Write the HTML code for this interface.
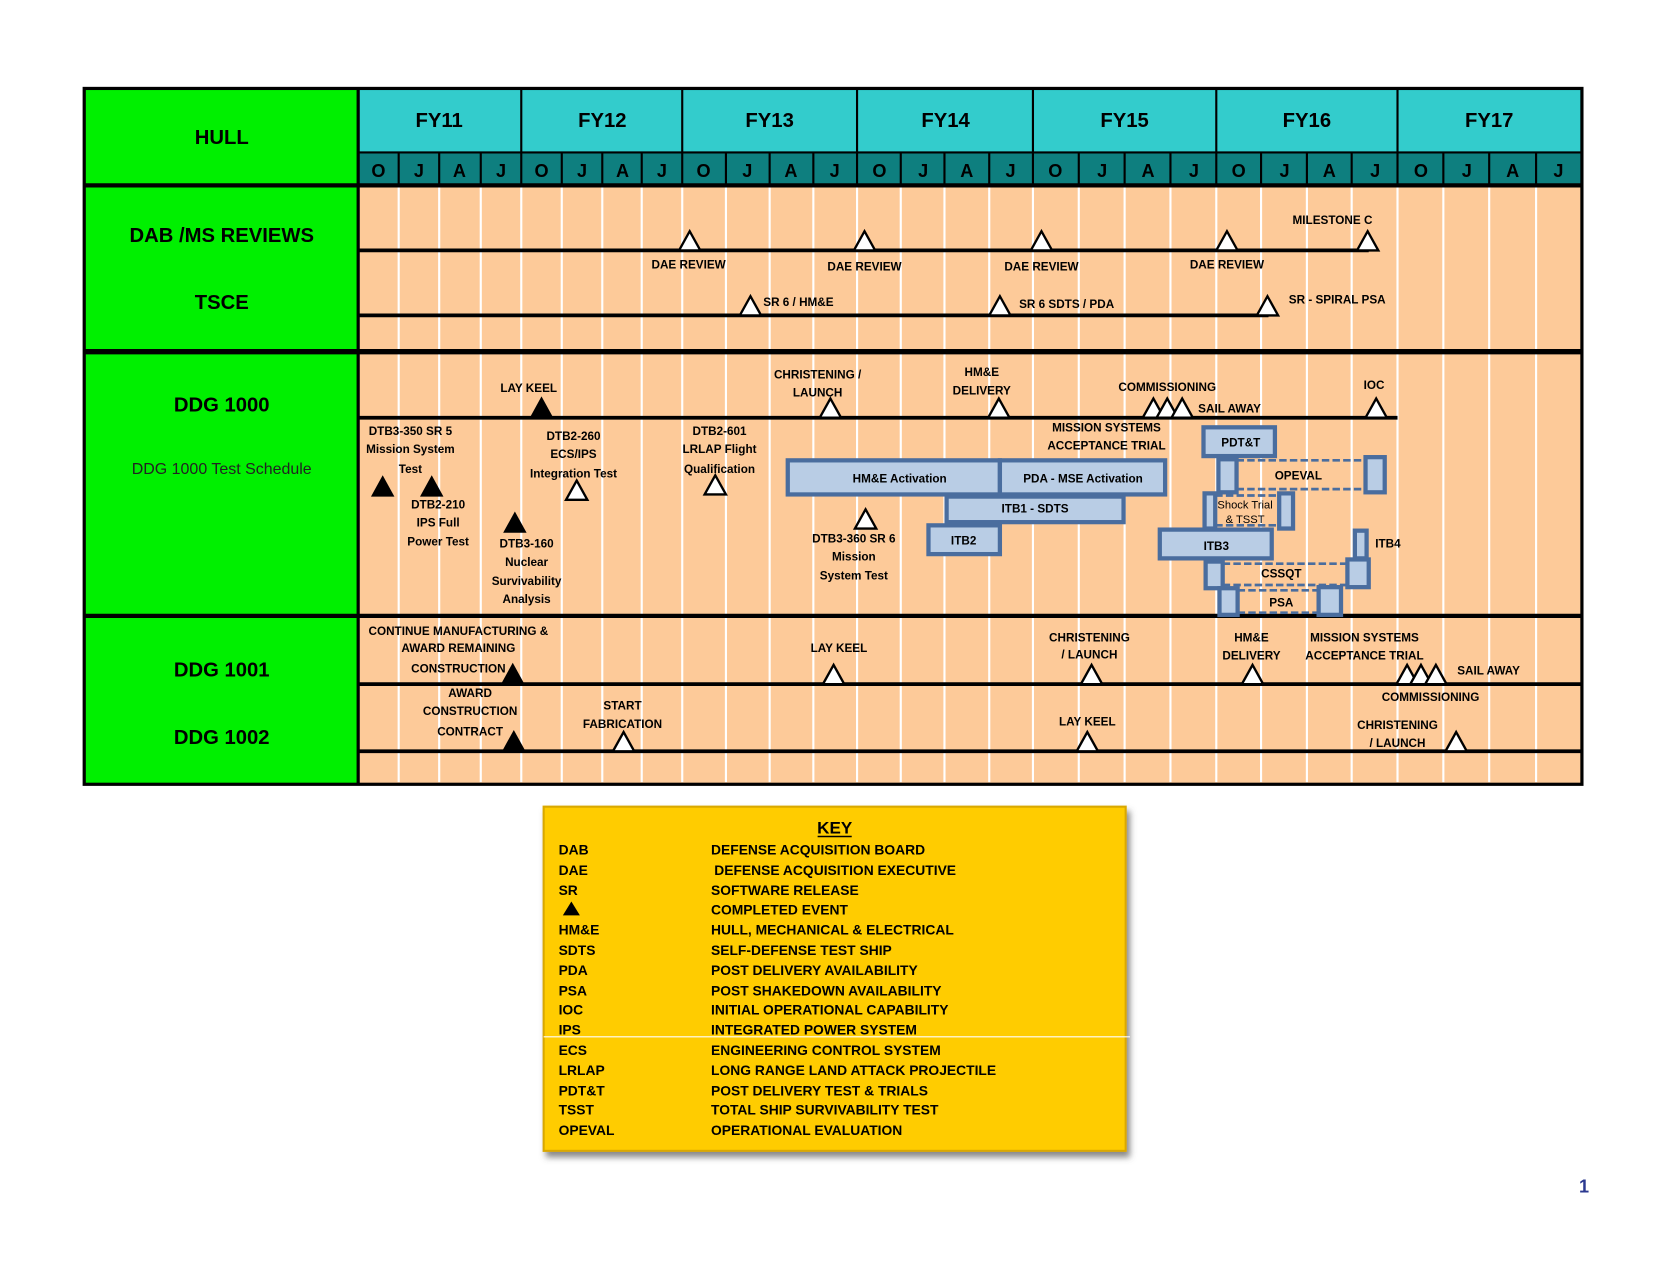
<!DOCTYPE html>
<html><head><meta charset="utf-8"><style>
html,body{margin:0;padding:0;background:#fff;}
svg{display:block;}
text{font-family:"Liberation Sans Narrow","Liberation Sans",sans-serif;font-weight:bold;fill:#000;}
.s{font-size:11px;}
.m{font-size:13px;}
.big{font-size:19px;}
.mo{font-size:17px;fill:#fff;}
.k{font-size:13px;}
</style></head><body>
<svg width="1672" height="1275" viewBox="0 0 1568.5 1196.5" preserveAspectRatio="none" xmlns="http://www.w3.org/2000/svg">
<defs>
<filter id="sh" x="-5%" y="-5%" width="115%" height="120%"><feDropShadow dx="3" dy="5" stdDeviation="3" flood-color="#555" flood-opacity="0.7"/></filter>
</defs>
<rect x="336" y="174" width="1148" height="562" fill="#FDCA99"/>
<rect x="79" y="83" width="257" height="653" fill="#00F000"/>
<rect x="336" y="83" width="1148" height="60" fill="#33CCCC"/>
<rect x="336" y="143" width="1148" height="31" fill="#0E7F7F"/>
<g stroke="#fff" stroke-width="2">
<line x1="374" y1="176" x2="374" y2="734"/><line x1="412" y1="176" x2="412" y2="734"/><line x1="451" y1="176" x2="451" y2="734"/><line x1="489" y1="176" x2="489" y2="734"/>
<line x1="527" y1="176" x2="527" y2="734"/><line x1="565" y1="176" x2="565" y2="734"/><line x1="602" y1="176" x2="602" y2="734"/><line x1="640" y1="176" x2="640" y2="734"/>
<line x1="681" y1="176" x2="681" y2="734"/><line x1="722" y1="176" x2="722" y2="734"/><line x1="763" y1="176" x2="763" y2="734"/><line x1="804" y1="176" x2="804" y2="734"/>
<line x1="845" y1="176" x2="845" y2="734"/><line x1="886" y1="176" x2="886" y2="734"/><line x1="928" y1="176" x2="928" y2="734"/><line x1="969" y1="176" x2="969" y2="734"/>
<line x1="1012" y1="176" x2="1012" y2="734"/><line x1="1055" y1="176" x2="1055" y2="734"/><line x1="1098" y1="176" x2="1098" y2="734"/><line x1="1141" y1="176" x2="1141" y2="734"/>
<line x1="1183" y1="176" x2="1183" y2="734"/><line x1="1226" y1="176" x2="1226" y2="734"/><line x1="1268" y1="176" x2="1268" y2="734"/><line x1="1311" y1="176" x2="1311" y2="734"/>
<line x1="1354" y1="176" x2="1354" y2="734"/><line x1="1397" y1="176" x2="1397" y2="734"/><line x1="1441" y1="176" x2="1441" y2="734"/>
</g>
<g stroke="#000" stroke-width="2">
<line x1="374" y1="143" x2="374" y2="174"/><line x1="412" y1="143" x2="412" y2="174"/><line x1="451" y1="143" x2="451" y2="174"/>
<line x1="527" y1="143" x2="527" y2="174"/><line x1="565" y1="143" x2="565" y2="174"/><line x1="602" y1="143" x2="602" y2="174"/>
<line x1="681" y1="143" x2="681" y2="174"/><line x1="722" y1="143" x2="722" y2="174"/><line x1="763" y1="143" x2="763" y2="174"/>
<line x1="845" y1="143" x2="845" y2="174"/><line x1="886" y1="143" x2="886" y2="174"/><line x1="928" y1="143" x2="928" y2="174"/>
<line x1="1012" y1="143" x2="1012" y2="174"/><line x1="1055" y1="143" x2="1055" y2="174"/><line x1="1098" y1="143" x2="1098" y2="174"/>
<line x1="1183" y1="143" x2="1183" y2="174"/><line x1="1226" y1="143" x2="1226" y2="174"/><line x1="1268" y1="143" x2="1268" y2="174"/>
<line x1="1354" y1="143" x2="1354" y2="174"/><line x1="1397" y1="143" x2="1397" y2="174"/><line x1="1441" y1="143" x2="1441" y2="174"/>
<line x1="489" y1="83" x2="489" y2="174"/><line x1="640" y1="83" x2="640" y2="174"/><line x1="804" y1="83" x2="804" y2="174"/>
<line x1="969" y1="83" x2="969" y2="174"/><line x1="1141" y1="83" x2="1141" y2="174"/><line x1="1311" y1="83" x2="1311" y2="174"/>
<line x1="336" y1="143" x2="1484" y2="143"/>
</g>
<g stroke="#000">
<rect x="79" y="83" width="1405" height="653" fill="none" stroke-width="3"/>
<line x1="336" y1="83" x2="336" y2="736" stroke-width="3"/>
<line x1="79" y1="174" x2="1484" y2="174" stroke-width="4"/>
<line x1="79" y1="330" x2="1484" y2="330" stroke-width="5"/>
<line x1="79" y1="578" x2="1484" y2="578" stroke-width="4"/>
<line x1="336" y1="235" x2="1284" y2="235" stroke-width="3.5"/>
<line x1="336" y1="296" x2="1190" y2="296" stroke-width="3.5"/>
<line x1="336" y1="392" x2="1311" y2="392" stroke-width="3.5"/>
<line x1="336" y1="642" x2="1484" y2="642" stroke-width="3.5"/>
<line x1="336" y1="705" x2="1484" y2="705" stroke-width="3.5"/>
</g>
<g class="big" text-anchor="middle">
<text x="412" y="119">FY11</text><text x="565" y="119">FY12</text><text x="722" y="119">FY13</text>
<text x="887" y="119">FY14</text><text x="1055" y="119">FY15</text><text x="1226" y="119">FY16</text><text x="1397" y="119">FY17</text>
</g>
<g class="mo" text-anchor="middle">
<text x="355" y="166">O</text><text x="393" y="166">J</text><text x="431" y="166">A</text><text x="470" y="166">J</text>
<text x="508" y="166">O</text><text x="546" y="166">J</text><text x="584" y="166">A</text><text x="621" y="166">J</text>
<text x="660" y="166">O</text><text x="701" y="166">J</text><text x="742" y="166">A</text><text x="783" y="166">J</text>
<text x="825" y="166">O</text><text x="866" y="166">J</text><text x="907" y="166">A</text><text x="948" y="166">J</text>
<text x="990" y="166">O</text><text x="1034" y="166">J</text><text x="1077" y="166">A</text><text x="1120" y="166">J</text>
<text x="1162" y="166">O</text><text x="1205" y="166">J</text><text x="1247" y="166">A</text><text x="1290" y="166">J</text>
<text x="1333" y="166">O</text><text x="1376" y="166">J</text><text x="1419" y="166">A</text><text x="1462" y="166">J</text>
</g>
<g class="big" text-anchor="middle">
<text x="208" y="135">HULL</text>
<text x="208" y="227">DAB /MS REVIEWS</text>
<text x="208" y="290">TSCE</text>
<text x="208" y="386">DDG 1000</text>
<text x="208" y="635">DDG 1001</text>
<text x="208" y="698">DDG 1002</text>
</g>
<text x="208" y="445" text-anchor="middle" style="font-weight:normal;font-size:15px;fill:#222">DDG 1000 Test Schedule</text>

<g fill="#B9CDE5" stroke="#4A6D9E" stroke-width="4">
<rect x="739" y="432" width="199" height="32"/>
<rect x="938" y="432" width="155" height="32"/>
<rect x="888" y="466" width="166" height="24"/>
<rect x="871" y="493" width="67" height="27"/>
<rect x="1129" y="401" width="67" height="27"/>
<rect x="1143" y="431" width="17" height="31"/>
<rect x="1281" y="429" width="18" height="33"/>
<rect x="1130" y="463" width="10" height="33"/>
<rect x="1200" y="463" width="13" height="33"/>
<rect x="1088" y="497" width="105" height="27"/>
<rect x="1271" y="498" width="11" height="26"/>
<rect x="1131" y="527" width="16" height="25"/>
<rect x="1264" y="525" width="20" height="26"/>
<rect x="1144" y="552" width="17" height="25"/>
<rect x="1237" y="551" width="21" height="26"/>
</g>
<g stroke="#4A6D9E" stroke-width="2.5" stroke-dasharray="7,3" fill="none">
<line x1="1160" y1="432" x2="1281" y2="432"/><line x1="1160" y1="459" x2="1281" y2="459"/>
<line x1="1140" y1="465" x2="1200" y2="465"/><line x1="1140" y1="493" x2="1200" y2="493"/>
<line x1="1147" y1="529" x2="1264" y2="529"/><line x1="1147" y1="549" x2="1264" y2="549"/>
<line x1="1161" y1="554" x2="1237" y2="554"/><line x1="1161" y1="575" x2="1237" y2="575"/>
</g>
<g class="s" text-anchor="middle">
<text x="844" y="453">HM&amp;E Activation</text>
<text x="1016" y="453">PDA - MSE Activation</text>
<text x="971" y="481">ITB1 - SDTS</text>
<text x="904" y="511">ITB2</text>
<text x="1164" y="419">PDT&amp;T</text>
<text x="1218" y="450">OPEVAL</text>
<text x="1168" y="477" style="font-weight:normal;font-size:10.5px">Shock Trial</text>
<text x="1168" y="491" style="font-weight:normal;font-size:10.5px">&amp; TSST</text>
<text x="1141" y="516">ITB3</text>
<text x="1302" y="514">ITB4</text>
<text x="1202" y="542">CSSQT</text>
<text x="1202" y="569">PSA</text>
</g>

<g fill="#fff" stroke="#000" stroke-width="2.2">
<polygon points="637,235 647,217 657,235"/>
<polygon points="801,235 811,217 821,235"/>
<polygon points="967,235 977,217 987,235"/>
<polygon points="1141,235 1151,217 1161,235"/>
<polygon points="1273,235 1283,217 1293,235"/>
<polygon points="694,296 704,278 714,296"/>
<polygon points="928,296 938,278 948,296"/>
<polygon points="1179,296 1189,278 1199,296"/>
<polygon points="769,392 779,374 789,392"/>
<polygon points="927,392 937,374 947,392"/>
<polygon points="1072,392 1082,374 1092,392"/>
<polygon points="1085,392 1095,374 1105,392"/>
<polygon points="1099,392 1109,374 1119,392"/>
<polygon points="1281,392 1291,374 1301,392"/>
<polygon points="531,469 541,451 551,469"/>
<polygon points="661,464 671,446 681,464"/>
<polygon points="802,496 812,478 822,496"/>
<polygon points="772,642 782,624 792,642"/>
<polygon points="1014,642 1024,624 1034,642"/>
<polygon points="1165,642 1175,624 1185,642"/>
<polygon points="1310,642 1320,624 1330,642"/>
<polygon points="1323,642 1333,624 1343,642"/>
<polygon points="1337,642 1347,624 1357,642"/>
<polygon points="575,705 585,687 595,705"/>
<polygon points="1010,705 1020,687 1030,705"/>
<polygon points="1356,705 1366,687 1376,705"/>
</g>
<g fill="#000">
<polygon points="497,392 508,372 519,392"/>
<polygon points="348,466 359,446 370,466"/>
<polygon points="394,466 405,446 416,466"/>
<polygon points="472,500 483,480 494,500"/>
<polygon points="470,642 481,622 492,642"/>
<polygon points="471,705 482,685 493,705"/>
</g>

<g class="s" text-anchor="middle">
<text x="646" y="252">DAE REVIEW</text>
<text x="811" y="254">DAE REVIEW</text>
<text x="977" y="254">DAE REVIEW</text>
<text x="1151" y="252">DAE REVIEW</text>
<text x="1250" y="210">MILESTONE  C</text>
<text x="496" y="368">LAY KEEL</text>
<text x="767" y="355">CHRISTENING  /</text>
<text x="767" y="372">LAUNCH</text>
<text x="921" y="353">HM&amp;E</text>
<text x="921" y="370">DELIVERY</text>
<text x="1095" y="367">COMMISSIONING</text>
<text x="1289" y="365">IOC</text>
<text x="1038" y="405">MISSION  SYSTEMS</text>
<text x="1038" y="422">ACCEPTANCE  TRIAL</text>
<text x="385" y="408">DTB3-350 SR 5</text>
<text x="385" y="425">Mission System</text>
<text x="385" y="444">Test</text>
<text x="411" y="477">DTB2-210</text>
<text x="411" y="494">IPS Full</text>
<text x="411" y="512">Power Test</text>
<text x="538" y="413">DTB2-260</text>
<text x="538" y="430">ECS/IPS</text>
<text x="538" y="448">Integration  Test</text>
<text x="494" y="514">DTB3-160</text>
<text x="494" y="531">Nuclear</text>
<text x="494" y="549">Survivability</text>
<text x="494" y="566">Analysis</text>
<text x="675" y="408">DTB2-601</text>
<text x="675" y="425">LRLAP Flight</text>
<text x="675" y="444">Qualification</text>
<text x="801" y="509">DTB3-360 SR 6</text>
<text x="801" y="526">Mission</text>
<text x="801" y="544">System Test</text>
<text x="430" y="596">CONTINUE MANUFACTURING  &amp;</text>
<text x="430" y="612">AWARD REMAINING</text>
<text x="430" y="631">CONSTRUCTION</text>
<text x="787" y="612">LAY KEEL</text>
<text x="1022" y="602">CHRISTENING</text>
<text x="1022" y="618">/ LAUNCH</text>
<text x="1174" y="602">HM&amp;E</text>
<text x="1174" y="619">DELIVERY</text>
<text x="1280" y="602">MISSION  SYSTEMS</text>
<text x="1280" y="619">ACCEPTANCE  TRIAL</text>
<text x="1342" y="658">COMMISSIONING</text>
<text x="441" y="654">AWARD</text>
<text x="441" y="671">CONSTRUCTION</text>
<text x="441" y="690">CONTRACT</text>
<text x="584" y="666">START</text>
<text x="584" y="683">FABRICATION</text>
<text x="1020" y="681">LAY KEEL</text>
<text x="1311" y="684">CHRISTENING</text>
<text x="1311" y="701">/ LAUNCH</text>
</g>
<g class="s">
<text x="716" y="287">SR 6  /  HM&amp;E</text>
<text x="956" y="289">SR 6  SDTS  /  PDA</text>
<text x="1209" y="285">SR  -  SPIRAL  PSA</text>
<text x="1124" y="387">SAIL  AWAY</text>
<text x="1367" y="633">SAIL  AWAY</text>
</g>

<rect x="510" y="757" width="546" height="323" fill="#FFCC00" stroke="#D9A800" stroke-width="2" filter="url(#sh)"/>
<line x1="510" y1="973" x2="1060" y2="973" stroke="#fff" stroke-width="1"/>
<text x="783" y="782" text-anchor="middle" style="font-size:16px">KEY</text>
<line x1="767" y1="785" x2="799" y2="785" stroke="#000" stroke-width="1.5"/>
<g class="k">
<text x="524" y="802">DAB</text><text x="667" y="802">DEFENSE ACQUISITION BOARD</text>
<text x="524" y="821">DAE</text><text x="670" y="821">DEFENSE ACQUISITION  EXECUTIVE</text>
<text x="524" y="840">SR</text><text x="667" y="840">SOFTWARE RELEASE</text>
<text x="667" y="858">COMPLETED EVENT</text>
<text x="524" y="877">HM&amp;E</text><text x="667" y="877">HULL, MECHANICAL &amp; ELECTRICAL</text>
<text x="524" y="896">SDTS</text><text x="667" y="896">SELF-DEFENSE TEST SHIP</text>
<text x="524" y="915">PDA</text><text x="667" y="915">POST DELIVERY AVAILABILITY</text>
<text x="524" y="934">PSA</text><text x="667" y="934">POST SHAKEDOWN AVAILABILITY</text>
<text x="524" y="952">IOC</text><text x="667" y="952">INITIAL OPERATIONAL CAPABILITY</text>
<text x="524" y="971">IPS</text><text x="667" y="971">INTEGRATED POWER SYSTEM</text>
<text x="524" y="990">ECS</text><text x="667" y="990">ENGINEERING CONTROL SYSTEM</text>
<text x="524" y="1009">LRLAP</text><text x="667" y="1009">LONG RANGE LAND ATTACK PROJECTILE</text>
<text x="524" y="1028">PDT&amp;T</text><text x="667" y="1028">POST DELIVERY TEST &amp; TRIALS</text>
<text x="524" y="1046">TSST</text><text x="667" y="1046">TOTAL SHIP SURVIVABILITY TEST</text>
<text x="524" y="1065">OPEVAL</text><text x="667" y="1065">OPERATIONAL EVALUATION</text>
</g>
<polygon points="528,859 536,846 544,859" fill="#000"/>

<text x="1486" y="1119" text-anchor="middle" style="font-size:17px;fill:#2B3990">1</text>
</svg>
</body></html>
